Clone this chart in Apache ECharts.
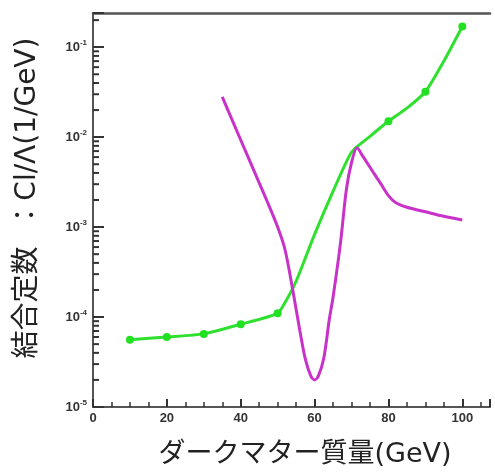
<!DOCTYPE html>
<html>
<head>
<meta charset="utf-8">
<script src="https://cdn.jsdelivr.net/npm/echarts@6/dist/echarts.min.js"></script>
<style>html,body{margin:0;padding:0;background:#fff}#c{width:495px;height:472px}</style>
</head>
<body>
<div id="c"></div>
<script>
// Green series (with markers at some points)
var greenX = [10, 20, 30, 40, 50, 52, 55, 60, 65, 70, 75, 80, 85, 90, 95, 100];
var greenY = [5.6e-5, 6.0e-5, 6.5e-5, 8.3e-5, 1.1e-4, 1.45e-4, 2.5e-4, 8.3e-4, 2.5e-3, 6.8e-3, 1.02e-2, 1.5e-2, 2.1e-2, 3.2e-2, 7.0e-2, 1.7e-1];
var greenMarkerX = [10, 20, 30, 40, 50, 80, 90, 100];
// Magenta series
var magX = [35, 40, 45, 47, 50, 52, 54, 56, 57.5, 59, 60, 61, 62.5, 64, 65, 67, 68.6, 70, 71.5, 73, 76, 78, 80, 82, 85, 90, 95, 100];
var magY = [2.8e-2, 9.3e-3, 3.1e-3, 2.0e-3, 1.0e-3, 5.6e-4, 2.1e-4, 7.1e-5, 3.4e-5, 2.2e-5, 2.0e-5, 2.2e-5, 3.5e-5, 9.5e-5, 1.66e-4, 6.6e-4, 2.6e-3, 5.2e-3, 7.6e-3, 6.2e-3, 4.0e-3, 3.0e-3, 2.24e-3, 1.86e-3, 1.66e-3, 1.48e-3, 1.32e-3, 1.2e-3];
// Axis ticks
var yMinorMantissa = [2, 3, 4, 5, 6, 7, 8, 9];
var yDecades = [1e-5, 1e-4, 1e-3, 1e-2, 1e-1];
var xName = 'ダークマター質量(GeV)';
var yName = '結合定数  ：Cl/Λ(1/GeV)';

var yMin = 1e-5, yMax = 0.24;
var minorTicks = [];
yDecades.forEach(function (d) {
  yMinorMantissa.forEach(function (m) {
    var v = d * m;
    if (v < yMax) minorTicks.push([0, v]);
  });
});

var greenData = greenX.map(function (x, i) {
  var mk = greenMarkerX.indexOf(x) >= 0;
  return { value: [x, greenY[i]], symbol: mk ? 'circle' : 'none' };
});
var magData = magX.map(function (x, i) { return [x, magY[i]]; });

var axisColor = '#555';
var tickColor = '#333';
var labelFont = { color: '#333', fontFamily: 'Liberation Sans', fontWeight: 'bold', fontSize: 13 };
var nameFont = "'DejaVu Sans', 'Noto Sans CJK JP'";

var chart = echarts.init(document.getElementById('c'), null, { renderer: 'canvas' });
chart.setOption({
  backgroundColor: '#fff',
  animation: false,
  grid: { left: 93, top: 13, right: 5, bottom: 65 },
  graphic: [{
    type: 'text', x: 305, y: 455, silent: true,
    style: { text: xName, fontFamily: nameFont, fontSize: 27, fill: '#222', align: 'center', verticalAlign: 'middle', textAlign: 'center', textVerticalAlign: 'middle' }
  }, {
    type: 'text', x: 28, y: 198, rotation: Math.PI / 2, silent: true,
    style: { text: yName, fontFamily: nameFont, fontSize: 28, fill: '#222', align: 'center', verticalAlign: 'middle', textAlign: 'center', textVerticalAlign: 'middle' }
  }],
  xAxis: [{
    type: 'value', min: 0, max: 107.5, interval: 20,
    axisLine: { show: true, lineStyle: { color: axisColor, width: 2 } },
    axisTick: { show: true, inside: true, length: 8, lineStyle: { color: tickColor, width: 2 } },
    minorTick: { show: true, splitNumber: 4, length: 5, lineStyle: { color: tickColor, width: 1.5 } },
    splitLine: { show: false },
    axisLabel: Object.assign({ margin: 5, showMaxLabel: false }, labelFont)
  }, {
    type: 'value', position: 'top', min: 0, max: 107.5,
    axisLine: { show: true, lineStyle: { color: axisColor, width: 2.5 } },
    axisTick: { show: false }, axisLabel: { show: false }, splitLine: { show: false }
  }],
  yAxis: {
    type: 'log', logBase: 10, min: yMin, max: yMax,
    axisLine: { show: true, lineStyle: { color: axisColor, width: 2 } },
    axisTick: { show: true, inside: true, length: 11, lineStyle: { color: tickColor, width: 2 } },
    minorTick: { show: false },
    splitLine: { show: false },
    axisLabel: Object.assign({
      margin: 6,
      formatter: function (v) {
        var l = Math.log10(v), e = Math.round(l);
        if (Math.abs(l - e) > 1e-6) return '';
        return '10{s|' + e + '}';
      },
      rich: { s: { fontSize: 8, fontWeight: 'bold', color: '#333', fontFamily: 'Liberation Sans', padding: [0, 0, 8, 0] } }
    }, labelFont)
  },
  series: [{
    type: 'custom',
    silent: true,
    clip: false,
    data: minorTicks,
    renderItem: function (params, api) {
      var p = api.coord([0, api.value(1)]);
      return { type: 'line', shape: { x1: p[0], y1: p[1], x2: p[0] + 6, y2: p[1] }, style: { stroke: tickColor, lineWidth: 2 } };
    },
    z: 5
  }, {
    type: 'line',
    data: greenData,
    smooth: 0.2,
    symbolSize: 8,
    lineStyle: { color: '#2fe02f', width: 3 },
    itemStyle: { color: '#22e022' },
    z: 3
  }, {
    type: 'line',
    data: magData,
    smooth: 0.3,
    showSymbol: false,
    symbol: 'none',
    lineStyle: { color: '#c832c8', width: 3 },
    z: 4
  }]
});
</script>
</body>
</html>
